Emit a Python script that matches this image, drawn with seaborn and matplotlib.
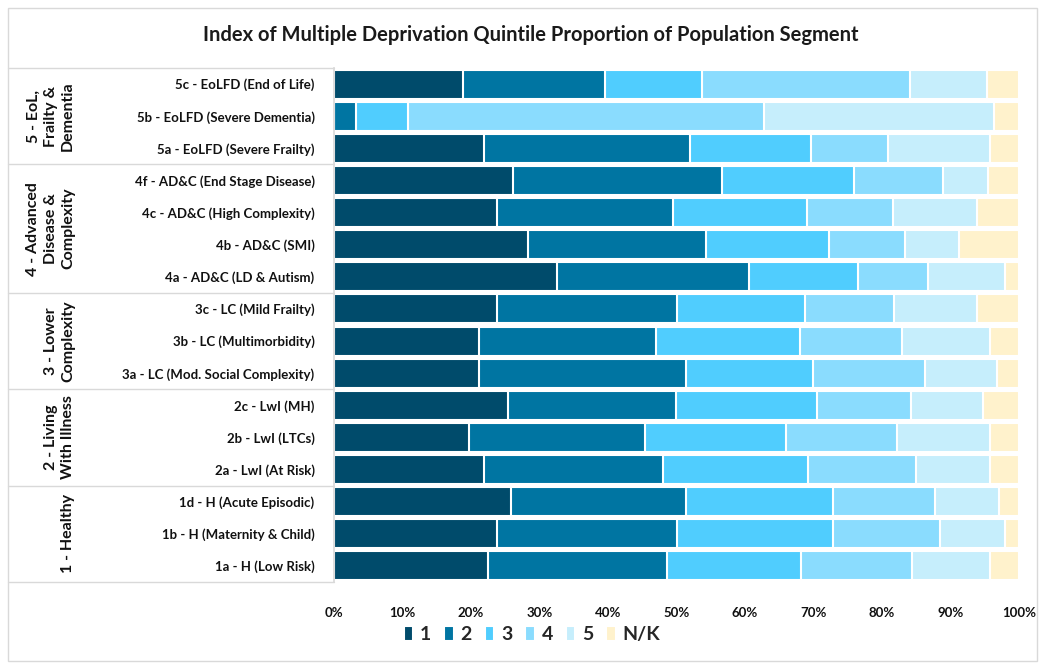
import numpy as np
import pandas as pd
import matplotlib.pyplot as plt
import seaborn as sns
from matplotlib.patches import Rectangle

sns.set_theme(style='white')
plt.rcParams['font.family'] = ['Lato', 'DejaVu Sans']
plt.rcParams['font.weight'] = 'bold'

# Данные: сегменты населения (сверху вниз) и доли по квинтилям IMD, %
segments = ['5c - EoLFD (End of Life)', '5b - EoLFD (Severe Dementia)', '5a - EoLFD (Severe Frailty)',
            '4f - AD&C (End Stage Disease)', '4c - AD&C (High Complexity)', '4b - AD&C (SMI)',
            '4a - AD&C (LD & Autism)', '3c - LC (Mild Frailty)', '3b - LC (Multimorbidity)',
            '3a - LC (Mod. Social Complexity)', '2c - LwI (MH)', '2b - LwI (LTCs)', '2a - LwI (At Risk)',
            '1d - H (Acute Episodic)', '1b - H (Maternity & Child)', '1a - H (Low Risk)']
q1 = [18.8, 0.0, 21.9, 26.1, 23.8, 28.3, 32.6, 23.8, 21.2, 21.2, 25.4, 19.7, 21.9, 25.8, 23.8, 22.5]
q2 = [20.8, 3.2, 30.1, 30.5, 25.7, 26.0, 28.0, 26.3, 25.8, 30.2, 24.5, 25.7, 26.1, 25.6, 26.3, 26.1]
q3 = [14.1, 7.6, 17.6, 19.3, 19.6, 18.0, 15.9, 18.7, 21.0, 18.5, 20.6, 20.6, 21.2, 21.4, 22.7, 19.6]
q4 = [30.4, 52.0, 11.3, 13.0, 12.5, 11.1, 10.2, 13.0, 14.9, 16.4, 13.7, 16.2, 15.8, 14.9, 15.7, 16.2]
q5 = [11.2, 33.6, 14.9, 6.6, 12.3, 7.8, 11.3, 12.1, 12.9, 10.5, 10.5, 13.6, 10.8, 9.4, 9.5, 11.4]
nk = [4.7, 3.6, 4.2, 4.5, 6.1, 8.8, 2.0, 6.1, 4.2, 3.2, 5.3, 4.2, 4.2, 2.9, 2.0, 4.2]

quintiles = ['1', '2', '3', '4', '5', 'N/K']
colors = ['#004b6b', '#0075a2', '#50cdfe', '#8adcfe', '#c6eefc', '#fff2cc']

groups = ['5 - EoL,\nFrailty &\nDementia', '4 - Advanced\nDisease &\nComplexity',
          '3 - Lower\nComplexity', '2 - Living\nWith Illness', '1 - Healthy']
group_sizes = [3, 4, 3, 3, 3]

df = pd.DataFrame({'segment': segments, '1': q1, '2': q2, '3': q3, '4': q4, '5': q5, 'N/K': nk})
cum = df[quintiles].cumsum(axis=1)
cum['segment'] = df['segment']

fig = plt.figure(figsize=(10.45, 6.69), dpi=100)
ax = fig.add_axes([334 / 1045, 1 - 582 / 669, 685 / 1045, 514 / 669])

# Рисуем накопленные суммы слоями: от самой длинной к самой короткой
for q, c in reversed(list(zip(quintiles, colors))):
    sns.barplot(data=cum, y='segment', x=q, color=c, orient='h', width=0.9,
                edgecolor='white', linewidth=1.5, label=q, ax=ax, saturation=1)

handles, labels = ax.get_legend_handles_labels()
if ax.get_legend() is not None:
    ax.get_legend().remove()

ax.set_xlim(0, 100)
ax.set_ylim(15.5, -0.5)
ax.set_xticks(np.arange(0, 101, 10))
ax.set_xticklabels([f'{t}%' for t in range(0, 101, 10)], fontsize=9.5, fontweight='bold')
ax.tick_params(axis='x', pad=18, length=0, colors='#111111')
ax.tick_params(axis='y', length=0, pad=14, colors='#111111')
for lbl in ax.get_yticklabels():
    lbl.set_fontsize(9.5)
    lbl.set_fontweight('bold')
ax.set_xlabel('')
ax.set_ylabel('')
for s in ['top', 'right', 'bottom']:
    ax.spines[s].set_visible(False)
ax.spines['left'].set_color('#d9d9d9')

# Разделители групп и подписи групп слева
trans = ax.get_yaxis_transform()
edges = np.concatenate([[0], np.cumsum(group_sizes)]) - 0.5
for e in edges:
    ax.plot([-0.476, 0], [e, e], color='#d9d9d9', lw=1, transform=trans, clip_on=False)
for g, lo, hi in zip(groups, edges[:-1], edges[1:]):
    ax.text(-0.378, (lo + hi) / 2, g, rotation=90, ha='right', va='center', ma='center',
            fontsize=11.5, fontweight='bold', transform=trans, linespacing=1.3, color='#111111')

fig.legend(handles[::-1], labels[::-1], loc='center', bbox_to_anchor=(0.509, 0.051), ncol=6,
           frameon=False, handlelength=0.5, handleheight=0.8, handletextpad=0.35,
           columnspacing=0.65, prop={'weight': 'bold', 'size': 14})

fig.text(0.508, 1 - 35 / 669, 'Index of Multiple Deprivation Quintile Proportion of Population Segment',
         ha='center', va='center', fontsize=14.5, fontweight='bold', color='#1a1a1a')

fig.patches.append(Rectangle((8 / 1045, 8 / 669), 1029 / 1045, 653 / 669, transform=fig.transFigure,
                             fill=False, edgecolor='#d9d9d9', lw=1))

fig.savefig('out.png', dpi=100)
